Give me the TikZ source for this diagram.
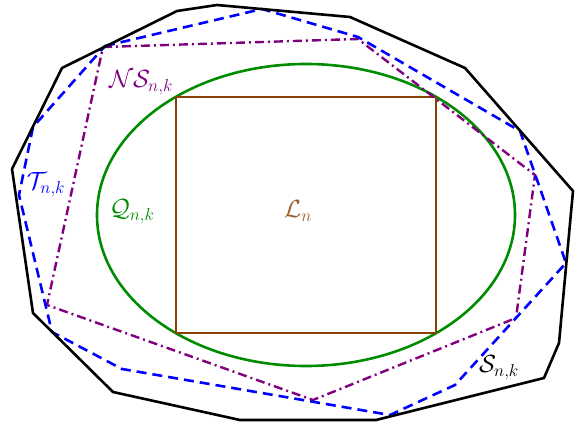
\documentclass[tikz,border=0pt]{standalone}
\definecolor{tblue}{RGB}{0,0,255}
\definecolor{nspurple}{RGB}{128,0,128}
\definecolor{qgreen}{RGB}{0,140,0}
\definecolor{lbrown}{RGB}{139,64,0}
\begin{document}
\begin{tikzpicture}[x=1pt,y=-1pt,
  lbl/.style={font=\fontsize{23}{27}\selectfont, inner sep=0pt},
  sline/.style={line width=2.6pt, line join=round, black},
  tline/.style={line width=2.6pt, tblue, dash pattern=on 10pt off 6pt},
  nsline/.style={line width=2.4pt, nspurple, dash pattern=on 9pt off 4pt on 2pt off 4pt},
  qline/.style={line width=2.6pt, qgreen},
  lline/.style={line width=2.6pt, lbrown}]
\useasboundingbox (0,0) rectangle (576,422);
% Q ellipse
\draw[qline] (306,215) ellipse [x radius=209pt, y radius=151pt];
% L rectangle
\draw[lline] (176,97) rectangle (436,333);
% NS hexagon
\draw[nsline] (103,47) -- (358,39) -- (535,175) -- (516,318) -- (313,400) -- (47,305) -- cycle;
% T polygon
\draw[tline] (105,46) -- (262,9) -- (358,37) -- (520,131) -- (566,263) -- (455,385) -- (390,415) -- (122,369) -- (52,332) -- (19,195) -- (33,127) -- cycle;
% S polygon
\draw[sline] (217,5) -- (350,17) -- (465,68) -- (573,191) -- (559,343) -- (544,378) -- (376,420) -- (240,420) -- (113,392) -- (33,313) -- (12,169) -- (62,68) -- (177,11) -- cycle;
% labels
\node[lbl, text=nspurple] (nslab) at (141,83) {$\mathcal{N}\mathcal{S}_{n,k}$};
\node[lbl, text=tblue] (tlab) at (46,185) {$\mathcal{T}_{n,k}$};
\node[lbl, text=qgreen] (qlab) at (132,212) {$\mathcal{Q}_{n,k}$};
\node[lbl, text=lbrown!85!white] (llab) at (298,211) {$\mathcal{L}_n$};
\node[lbl, text=black] (slab) at (499,368) {$\mathcal{S}_{n,k}$};
\end{tikzpicture}
\end{document}
